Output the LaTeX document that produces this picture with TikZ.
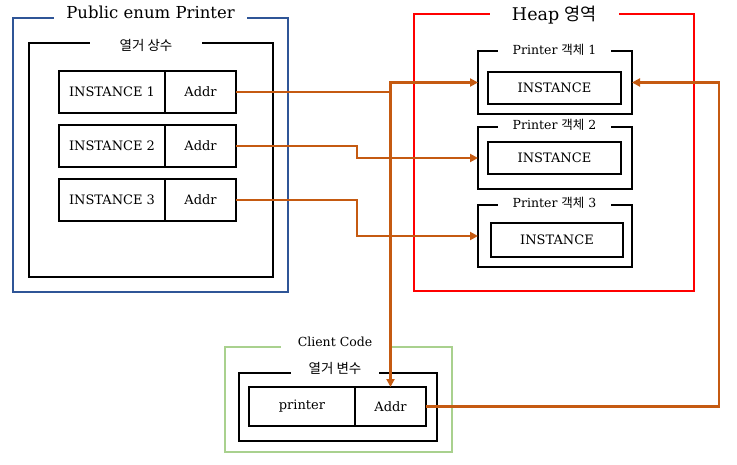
\documentclass[tikz,border=0pt]{standalone}
\usepackage{fontspec}
\setmainfont{DejaVu Serif}
\newfontfamily\kr{Noto Sans CJK KR}
\usetikzlibrary{arrows.meta}
\definecolor{pblue}{HTML}{2F5597}
\definecolor{pred}{HTML}{FF0000}
\definecolor{pgreen}{HTML}{A9D18E}
\definecolor{porange}{HTML}{C55A11}
\begin{document}
\begin{tikzpicture}[x=1pt,y=-1pt,
  frame/.style={draw, line width=2.5pt, inner sep=0pt, outer sep=0pt},
  cell/.style={frame, font=\fontsize{13}{15}\selectfont},
  gapcover/.style={fill=white, inner sep=0pt, minimum height=6pt},
  ttl/.style={inner sep=0pt, anchor=base},
  link/.style={draw=porange, line width=2.3pt},
  arr/.style={-{Triangle[length=8pt,width=8pt]}}
]
\useasboundingbox (0,0) rectangle (737,465);

% ---- Public enum Printer ----
\node[frame, draw=pblue, line width=2.7pt, minimum width=275, minimum height=274] (enumbox) at (150.5,155) {};
\node[frame, minimum width=244, minimum height=234] (constbox) at (151,160) {};
\node[cell, minimum width=106, minimum height=42] (i1) at (112,92) {INSTANCE 1};
\node[cell, minimum width=71, minimum height=42] (a1) at (200.5,92) {Addr};
\node[cell, minimum width=106, minimum height=42] (i2) at (112,146) {INSTANCE 2};
\node[cell, minimum width=71, minimum height=42] (a2) at (200.5,146) {Addr};
\node[cell, minimum width=106, minimum height=42] (i3) at (112,200) {INSTANCE 3};
\node[cell, minimum width=71, minimum height=42] (a3) at (200.5,200) {Addr};

% ---- Heap ----
\node[frame, draw=pred, line width=2.7pt, minimum width=280, minimum height=277] (heapbox) at (554,152.5) {};
\node[frame, minimum width=154, minimum height=63] (p1) at (555,82.5) {};
\node[cell, minimum width=133, minimum height=32] (n1) at (554.5,88) {INSTANCE};
\node[frame, minimum width=154, minimum height=62] (p2) at (555,158) {};
\node[cell, minimum width=133, minimum height=32] (n2) at (554.5,158) {INSTANCE};
\node[frame, minimum width=154, minimum height=62] (p3) at (555,236) {};
\node[cell, minimum width=132, minimum height=34] (n3) at (557,240) {INSTANCE};

% ---- Client Code ----
\node[frame, draw=pgreen, line width=2.7pt, minimum width=227, minimum height=105] (clientbox) at (338.5,399.5) {};
\node[frame, minimum width=198, minimum height=68] (varbox) at (338,407) {};
\node[cell, minimum width=106, minimum height=39] (cp) at (302,406.5) {printer};
\node[cell, minimum width=71, minimum height=39] (ca) at (390.5,406.5) {Addr};

% ---- title gaps ----
\node[gapcover, minimum width=193] (g1) at (150.5,18) {};
\node[gapcover, minimum width=112] (g2) at (146,43) {};
\node[gapcover, minimum width=129] (g3) at (554.5,14) {};
\node[gapcover, minimum width=113] (g4) at (554.5,51) {};
\node[gapcover, minimum width=113] (g5) at (554.5,127) {};
\node[gapcover, minimum width=113] (g6) at (554.5,205) {};
\node[gapcover, minimum width=111] (g7) at (336.5,347) {};
\node[gapcover, minimum width=88] (g8) at (335,373) {};

% ---- titles ----
\node[ttl, font=\fontsize{16.5}{18}\selectfont] (t1) at (150.5,19) {Public enum Printer};
\node[inner sep=0pt, font=\kr\fontsize{13.5}{15}\selectfont] (t2) at (146,45.5) {열거 상수};
\node[ttl, font=\fontsize{17.5}{20}\selectfont] (t3) at (554.5,21) {Heap {\kr 영역}};
\node[ttl, font=\fontsize{12.5}{14}\selectfont] (t4) at (554.5,54.5) {Printer {\kr 객체} 1};
\node[ttl, font=\fontsize{12.5}{14}\selectfont] (t5) at (554.5,129.5) {Printer {\kr 객체} 2};
\node[ttl, font=\fontsize{12.5}{14}\selectfont] (t6) at (554.5,208) {Printer {\kr 객체} 3};
\node[ttl, font=\fontsize{12.5}{14}\selectfont] (t7) at (335,346.5) {Client Code};
\node[inner sep=0pt, font=\kr\fontsize{13.5}{15}\selectfont] (t8) at (335,368.5) {열거 변수};

% ---- connectors ----
\coordinate (j) at (390.5,82.5);
\coordinate (bend) at (357,0);
\coordinate (rr) at (719,0);
\draw[link, arr] (a1.east) -| (j) -- (p1.west);
\draw[link, arr] (j) -- (ca.north);
\draw[link, arr] (a2.east) -- (a2.east -| bend) |- (p2.west);
\draw[link, arr] (a3.east) -- (a3.east -| bend) |- (p3.west);
\draw[link, arr] (ca.east) -| (rr |- p1.east) -- (p1.east);
\end{tikzpicture}
\end{document}
